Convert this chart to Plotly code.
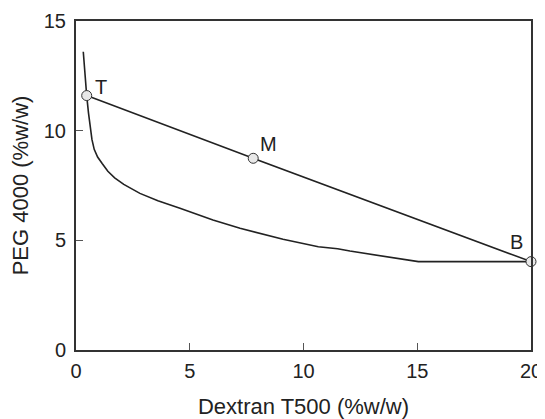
import plotly.graph_objects as go

# Binodal curve (Dextran T500 %w/w vs PEG 4000 %w/w)
binodal_x = [0.32, 0.36, 0.40, 0.47, 0.55, 0.62, 0.70, 0.80, 0.95, 1.15, 1.40, 1.70, 2.10, 2.81, 3.60, 4.57, 5.45, 6.02, 7.21, 8.20, 9.10, 10.65, 11.50, 12.04, 13.36, 14.30, 15.05, 20.0]
binodal_y = [13.6, 13.0, 12.4, 11.6, 10.8, 10.2, 9.6, 9.15, 8.8, 8.5, 8.15, 7.85, 7.55, 7.14, 6.8, 6.46, 6.12, 5.93, 5.55, 5.28, 5.05, 4.71, 4.62, 4.51, 4.29, 4.15, 4.03, 4.03]

# Tie line points
tie_x = [0.47, 7.79, 20.0]
tie_y = [11.6, 8.74, 4.03]
tie_labels = ["T", "M", "B"]

FONT = "Liberation Sans, Arial, Helvetica, sans-serif"

fig = go.Figure()
fig.add_trace(go.Scatter(x=binodal_x, y=binodal_y, mode="lines",
                         line=dict(color="#222222", width=1.6, shape="linear"),
                         hoverinfo="skip", showlegend=False))
fig.add_trace(go.Scatter(x=tie_x, y=tie_y, mode="lines+markers",
                         line=dict(color="#222222", width=1.6),
                         marker=dict(size=10, color="#e8e8e8", line=dict(color="#333333", width=1)),
                         cliponaxis=False, showlegend=False))

label_offsets = {"T": (14, 9), "M": (15, 14), "B": (-15, 20)}
for x, y, t in zip(tie_x, tie_y, tie_labels):
    dx, dy = label_offsets[t]
    fig.add_annotation(x=x, y=y, text=t, showarrow=False, xshift=dx, yshift=dy,
                       font=dict(family=FONT, size=20, color="#222222"))

axis_common = dict(showline=True, linecolor="#333333", linewidth=2, mirror=True,
                   ticks="inside", ticklen=7, tickwidth=1, tickcolor="#555555",
                   showgrid=False, zeroline=False, automargin=False,
                   tickfont=dict(family=FONT, size=20, color="#222222"),
                   title_font=dict(family=FONT, size=22, color="#222222"))

fig.update_xaxes(range=[0, 20], tickvals=[0, 5, 10, 15, 20], title_text="Dextran T500 (%w/w)",
                 title_standoff=20, ticklabelstandoff=2, **axis_common)
fig.update_yaxes(range=[0, 15], tickvals=[0, 5, 10, 15], title_text="PEG 4000 (%w/w)",
                 title_standoff=17, ticklabelstandoff=4, **axis_common)

# page body has an 8px default margin, so the figure is sized to fit the 545x419 window
fig.update_layout(width=537, height=411, margin=dict(l=68, r=14, t=13, b=69),
                  plot_bgcolor="white", paper_bgcolor="white")

fig.write_html("out.html")
